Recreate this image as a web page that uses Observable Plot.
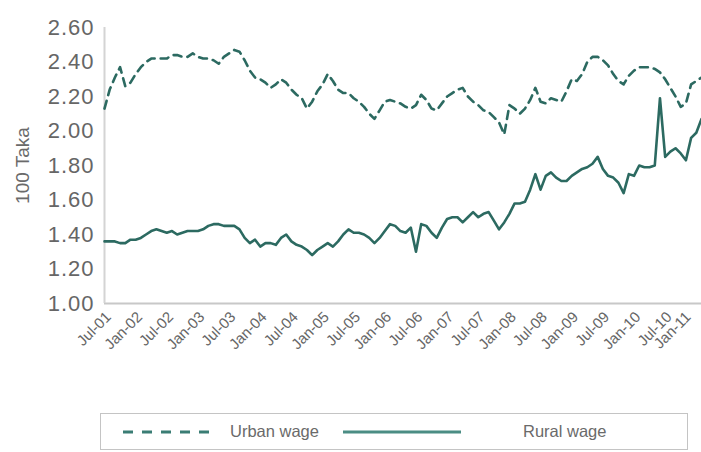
<!DOCTYPE html>
<html><head><meta charset="utf-8">
<script src="https://cdn.jsdelivr.net/npm/d3@7"></script>
<script src="https://cdn.jsdelivr.net/npm/@observablehq/plot@0.6"></script>
<style>
body{margin:0;background:#fff;font-family:"Liberation Sans",Arial,sans-serif;}
#wrap{position:relative;width:701px;height:452px;overflow:hidden;background:#fff;}
#chart{position:absolute;left:0;top:0;}
#chart g[aria-label="y-axis tick label"] text{letter-spacing:1px;}
#legend{position:absolute;left:100px;top:413px;width:588px;height:37px;border:1px solid #c4c4c4;box-sizing:border-box;}
#legend svg{position:absolute;left:0;top:0;}
#legend span{position:absolute;top:8px;font-size:16.5px;color:#6a6a6a;white-space:nowrap;}
</style></head><body>
<div id="wrap"><div id="chart"></div>
<div id="legend">
<svg width="588" height="37"><line id="lgU" x1="22" x2="110" y1="18" y2="18" stroke="#3a7d74" stroke-width="3" stroke-dasharray="10,9"/><line id="lgR" x1="242" x2="360" y1="18" y2="18" stroke="#4b8d84" stroke-width="3"/></svg>
<span id="lgUt" style="left:129px"></span><span id="lgRt" style="left:422px"></span>
</div></div>
<script>
// Monthly values, Jul-01 .. Feb-11 (100 Taka)
const urbanWage = [2.13,2.24,2.31,2.37,2.26,2.28,2.33,2.37,2.40,2.42,2.42,2.42,2.42,2.44,2.44,2.43,2.43,2.45,2.43,2.42,
2.42,2.41,2.39,2.43,2.45,2.47,2.46,2.41,2.35,2.31,2.30,2.28,2.25,2.27,2.30,2.28,2.24,2.21,2.19,2.13,
2.17,2.23,2.27,2.33,2.29,2.24,2.22,2.22,2.19,2.17,2.14,2.10,2.07,2.12,2.17,2.18,2.17,2.16,2.14,2.13,
2.15,2.21,2.18,2.13,2.12,2.16,2.20,2.22,2.24,2.25,2.20,2.17,2.15,2.12,2.11,2.08,2.05,1.98,2.15,2.13,
2.10,2.13,2.18,2.25,2.17,2.16,2.19,2.18,2.17,2.23,2.30,2.29,2.33,2.40,2.43,2.43,2.41,2.38,2.33,2.29,
2.27,2.32,2.35,2.37,2.37,2.37,2.36,2.34,2.30,2.25,2.20,2.14,2.16,2.27,2.29,2.31];
const ruralWage = [1.36,1.36,1.36,1.35,1.35,1.37,1.37,1.38,1.40,1.42,1.43,1.42,1.41,1.42,1.40,1.41,1.42,1.42,1.42,1.43,
1.45,1.46,1.46,1.45,1.45,1.45,1.43,1.38,1.35,1.37,1.33,1.35,1.35,1.34,1.38,1.40,1.36,1.34,1.33,1.31,
1.28,1.31,1.33,1.35,1.33,1.36,1.40,1.43,1.41,1.41,1.40,1.38,1.35,1.38,1.42,1.46,1.45,1.42,1.41,1.44,
1.30,1.46,1.45,1.41,1.38,1.44,1.49,1.50,1.50,1.47,1.50,1.53,1.50,1.52,1.53,1.48,1.43,1.47,1.52,1.58,
1.58,1.59,1.66,1.75,1.66,1.74,1.76,1.73,1.71,1.71,1.74,1.76,1.78,1.79,1.81,1.85,1.78,1.74,1.73,1.70,
1.64,1.75,1.74,1.80,1.79,1.79,1.80,2.19,1.85,1.88,1.90,1.87,1.83,1.96,1.99,2.07];
const xTickLabels = ["Jul-01","Jan-02","Jul-02","Jan-03","Jul-03","Jan-04","Jul-04","Jan-05","Jul-05","Jan-06",
"Jul-06","Jan-07","Jul-07","Jan-08","Jul-08","Jan-09","Jul-09","Jan-10","Jul-10","Jan-11"];
const yTicks = [1.00,1.20,1.40,1.60,1.80,2.00,2.20,2.40,2.60];
const seriesNames = ["Urban wage","Rural wage"];
const yTitle = "100 Taka";

document.getElementById("lgUt").textContent = seriesNames[0];
document.getElementById("lgRt").textContent = seriesNames[1];

const lineColor = "#2c6a61";
const tickIdx = xTickLabels.map((_, k) => k * 6);
const xFmt = d => xTickLabels[Math.round(d / 6)];
const chart = Plot.plot({
  width: 701, height: 405,
  marginLeft: 104, marginRight: 0, marginTop: 27, marginBottom: 102,
  style: {fontFamily: "'Liberation Sans', Arial, sans-serif", color: "#666", background: "transparent", overflow: "visible"},
  x: {type: "linear", domain: [0, urbanWage.length - 1]},
  y: {domain: [1, 2.6]},
  marks: [
    Plot.axisY({ticks: yTicks, tickFormat: d => d.toFixed(2), tickSize: 0, tickPadding: 10, fontSize: 22, label: null}),
    Plot.axisX({ticks: tickIdx.slice(0, -1), tickFormat: xFmt, tickRotate: -45, tickSize: 0, tickPadding: 11, dx: 4, fontSize: 15, label: null}),
    Plot.axisX({ticks: tickIdx.slice(-1), tickFormat: xFmt, tickRotate: -45, tickSize: 0, tickPadding: 11, dx: -8, fontSize: 15, label: null}),
    Plot.text([yTitle], {frameAnchor: "left", textAnchor: "middle", dx: -82, rotate: -90, fontSize: 19, fill: "#6a6a6a"}),
    Plot.ruleY([1], {stroke: "#c8c8c8", strokeWidth: 2}),
    Plot.ruleX([0], {stroke: "#d4d4d4", strokeWidth: 2}),
    Plot.line(urbanWage, {x: (d, i) => i, y: d => d, stroke: lineColor, strokeWidth: 2.6, strokeDasharray: "8,6"}),
    Plot.line(ruralWage, {x: (d, i) => i, y: d => d, stroke: lineColor, strokeWidth: 2.6})
  ]
});
document.getElementById("chart").appendChild(chart);
</script>
</body></html>
